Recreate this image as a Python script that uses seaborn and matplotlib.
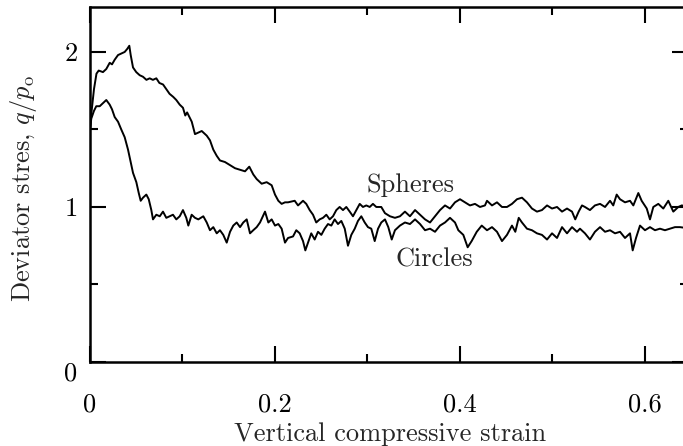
import numpy as np
import pandas as pd
import seaborn as sns
from matplotlib import pyplot as plt
from matplotlib.ticker import MultipleLocator

# values
spheres_strain = [0.0000, 0.0014, 0.0043, 0.0070, 0.0094, 0.0140, 0.0176, 0.0213, 0.0238, 0.0267,
                  0.0303, 0.0340, 0.0375, 0.0403, 0.0425, 0.0440, 0.0465, 0.0500, 0.0537, 0.0573,
                  0.0610, 0.0645, 0.0680, 0.0717, 0.0750, 0.0790, 0.0825, 0.0860, 0.0900, 0.0933,
                  0.0970, 0.1005, 0.1030, 0.1050, 0.1100, 0.1135, 0.1208, 0.1262, 0.1297, 0.1333,
                  0.1370, 0.1405, 0.1459, 0.1514, 0.1568, 0.1622, 0.1676, 0.1722, 0.1765, 0.1802,
                  0.1856, 0.1910, 0.1964, 0.2000, 0.2036, 0.2072, 0.2108, 0.2141, 0.2213, 0.2249,
                  0.2303, 0.2338, 0.2375, 0.2411, 0.2446, 0.2483, 0.2519, 0.2555, 0.2591, 0.2627,
                  0.2663, 0.2699, 0.2735, 0.2771, 0.2808, 0.2843, 0.2879, 0.2916, 0.2951, 0.2987,
                  0.3024, 0.3059, 0.3095, 0.3149, 0.3189, 0.3243, 0.3297, 0.3351, 0.3405, 0.3459,
                  0.3514, 0.3568, 0.3622, 0.3676, 0.3730, 0.3784, 0.3838, 0.3892, 0.3946, 0.4000,
                  0.4054, 0.4108, 0.4162, 0.4216, 0.4270, 0.4292, 0.4346, 0.4400, 0.4454, 0.4508,
                  0.4562, 0.4616, 0.4670, 0.4724, 0.4778, 0.4832, 0.4886, 0.4941, 0.4995, 0.5049,
                  0.5103, 0.5157, 0.5211, 0.5246, 0.5283, 0.5319, 0.5351, 0.5405, 0.5459, 0.5514,
                  0.5568, 0.5622, 0.5657, 0.5694, 0.5730, 0.5784, 0.5838, 0.5874, 0.5928, 0.5964,
                  0.6019, 0.6054, 0.6090, 0.6144, 0.6198, 0.6252, 0.6306, 0.6360, 0.6397, 0.6500]
spheres_stress = [1.50, 1.60, 1.76, 1.86, 1.88, 1.87, 1.89, 1.93, 1.92, 1.95,
                  1.98, 1.99, 2.00, 2.02, 2.04, 1.98, 1.90, 1.87, 1.85, 1.84,
                  1.82, 1.83, 1.82, 1.83, 1.80, 1.79, 1.76, 1.73, 1.71, 1.69,
                  1.66, 1.64, 1.59, 1.61, 1.55, 1.47, 1.49, 1.46, 1.43, 1.37,
                  1.33, 1.30, 1.29, 1.27, 1.25, 1.24, 1.23, 1.26, 1.21, 1.18,
                  1.15, 1.16, 1.14, 1.08, 1.04, 1.02, 1.03, 1.03, 1.04, 1.01,
                  1.04, 1.02, 0.98, 0.95, 0.90, 0.92, 0.93, 0.95, 0.92, 0.94,
                  0.98, 1.00, 0.98, 1.00, 0.97, 0.94, 0.98, 1.02, 1.00, 1.01,
                  1.00, 1.02, 1.00, 1.00, 0.96, 0.94, 0.93, 0.94, 0.97, 0.94,
                  0.98, 0.95, 0.92, 0.90, 0.94, 0.98, 1.01, 0.99, 1.03, 1.05,
                  1.03, 1.01, 1.02, 1.00, 1.01, 1.04, 1.01, 1.03, 1.00, 1.00,
                  1.02, 1.05, 1.06, 1.03, 0.99, 0.97, 0.98, 1.01, 0.99, 1.00,
                  0.97, 0.99, 0.97, 0.92, 0.97, 1.01, 1.00, 0.98, 1.01, 1.02,
                  1.00, 1.04, 1.01, 1.08, 1.05, 1.03, 1.04, 1.01, 1.09, 1.04,
                  0.99, 0.92, 1.00, 1.02, 0.99, 1.04, 0.97, 1.00, 1.01, 1.00]

circles_strain = [0.0000, 0.0014, 0.0043, 0.0068, 0.0105, 0.0140, 0.0176, 0.0213, 0.0238, 0.0267,
                  0.0303, 0.0338, 0.0375, 0.0411, 0.0440, 0.0465, 0.0501, 0.0527, 0.0548, 0.0573,
                  0.0609, 0.0635, 0.0663, 0.0681, 0.0717, 0.0754, 0.0789, 0.0825, 0.0862, 0.0897,
                  0.0933, 0.0970, 0.1005, 0.1041, 0.1063, 0.1099, 0.1135, 0.1171, 0.1225, 0.1262,
                  0.1297, 0.1333, 0.1370, 0.1405, 0.1441, 0.1478, 0.1514, 0.1549, 0.1586, 0.1622,
                  0.1657, 0.1694, 0.1730, 0.1765, 0.1802, 0.1838, 0.1892, 0.1928, 0.1964, 0.2000,
                  0.2036, 0.2072, 0.2108, 0.2141, 0.2195, 0.2230, 0.2267, 0.2303, 0.2328, 0.2357,
                  0.2392, 0.2429, 0.2465, 0.2501, 0.2537, 0.2573, 0.2609, 0.2645, 0.2681, 0.2717,
                  0.2754, 0.2789, 0.2825, 0.2862, 0.2897, 0.2933, 0.2970, 0.3005, 0.3041, 0.3078,
                  0.3114, 0.3149, 0.3189, 0.3225, 0.3262, 0.3297, 0.3351, 0.3405, 0.3459, 0.3514,
                  0.3568, 0.3622, 0.3676, 0.3730, 0.3784, 0.3838, 0.3892, 0.3946, 0.3982, 0.4036,
                  0.4083, 0.4126, 0.4181, 0.4235, 0.4292, 0.4346, 0.4400, 0.4454, 0.4508, 0.4562,
                  0.4598, 0.4635, 0.4670, 0.4724, 0.4778, 0.4832, 0.4886, 0.4941, 0.4995, 0.5049,
                  0.5103, 0.5157, 0.5211, 0.5265, 0.5297, 0.5351, 0.5405, 0.5459, 0.5514, 0.5568,
                  0.5622, 0.5676, 0.5730, 0.5784, 0.5838, 0.5867, 0.5903, 0.5946, 0.6000, 0.6054,
                  0.6108, 0.6162, 0.6216, 0.6270, 0.6324, 0.6378, 0.6500]
circles_stress = [1.50, 1.57, 1.62, 1.65, 1.65, 1.67, 1.69, 1.66, 1.63, 1.58,
                  1.55, 1.50, 1.45, 1.37, 1.29, 1.22, 1.16, 1.09, 1.04, 1.06,
                  1.08, 1.05, 0.98, 0.92, 0.95, 0.94, 0.97, 0.93, 0.94, 0.95,
                  0.92, 0.94, 0.98, 0.93, 0.88, 0.95, 0.93, 0.92, 0.94, 0.90,
                  0.85, 0.87, 0.83, 0.85, 0.82, 0.77, 0.84, 0.88, 0.90, 0.87,
                  0.90, 0.92, 0.83, 0.85, 0.87, 0.90, 0.97, 0.90, 0.92, 0.88,
                  0.89, 0.86, 0.77, 0.80, 0.81, 0.85, 0.83, 0.78, 0.72, 0.77,
                  0.83, 0.79, 0.84, 0.82, 0.86, 0.89, 0.88, 0.92, 0.89, 0.91,
                  0.86, 0.75, 0.82, 0.86, 0.91, 0.94, 0.90, 0.87, 0.86, 0.78,
                  0.86, 0.90, 0.92, 0.87, 0.79, 0.85, 0.88, 0.90, 0.89, 0.92,
                  0.89, 0.85, 0.86, 0.84, 0.88, 0.90, 0.93, 0.90, 0.85, 0.82,
                  0.74, 0.78, 0.84, 0.88, 0.85, 0.87, 0.84, 0.78, 0.82, 0.88,
                  0.84, 0.93, 0.90, 0.86, 0.85, 0.83, 0.82, 0.79, 0.83, 0.80,
                  0.87, 0.83, 0.87, 0.84, 0.86, 0.83, 0.79, 0.84, 0.87, 0.84,
                  0.85, 0.83, 0.84, 0.80, 0.83, 0.72, 0.80, 0.88, 0.85, 0.87,
                  0.85, 0.86, 0.85, 0.86, 0.87, 0.87, 0.86]

x_ticks = [0, 0.2, 0.4, 0.6]
x_ticklabels = ['0', '0.2', '0.4', '0.6']
y_ticks = [0, 1, 2]
y_ticklabels = ['0', '1', '2']

df = pd.concat([
    pd.DataFrame({'strain': spheres_strain, 'stress': spheres_stress, 'kind': 'Spheres'}),
    pd.DataFrame({'strain': circles_strain, 'stress': circles_stress, 'kind': 'Circles'}),
])

sns.set_style('ticks')
plt.rcParams['font.family'] = ['cmr10', 'DejaVu Serif']
plt.rcParams['mathtext.fontset'] = 'cm'
plt.rcParams['axes.formatter.use_mathtext'] = True
plt.rcParams['axes.unicode_minus'] = False

fig = plt.figure(figsize=(6.83, 4.46), dpi=100)
ax = fig.add_axes([90/683, 84/446, 598/683, 355/446])

sns.lineplot(data=df, x='strain', y='stress', units='kind', estimator=None,
             color='black', linewidth=1.4, sort=False, ax=ax, legend=False)

ax.set_xlim(0, 0.6465)
ax.set_ylim(0, 2.29)
ax.set_xticks(x_ticks)
ax.set_xticklabels(x_ticklabels)
ax.set_yticks(y_ticks)
ax.set_yticklabels(y_ticklabels)
ax.xaxis.set_minor_locator(MultipleLocator(0.1))
ax.yaxis.set_minor_locator(MultipleLocator(0.5))

ax.tick_params(which='both', direction='in', top=True, right=True, width=1.5, color='black',
               labelsize=19, labelcolor='black')
ax.tick_params(which='major', length=11.5)
ax.tick_params(which='minor', length=5.5)
ax.tick_params(axis='x', pad=22)
ax.tick_params(axis='y', pad=9)
ax.get_yticklabels()[0].set_verticalalignment('top')

for s in ax.spines.values():
    s.set_linewidth(1.8)
    s.set_color('black')

ax.set_xlabel('Vertical compressive strain', fontsize=19)
ax.set_ylabel(r'Deviator stres, $q/p_{\rm o}$', fontsize=19)
ax.xaxis.set_label_coords(0.5017, -0.17)
ax.yaxis.set_label_coords(-0.085, 0.49)

ax.text(0.346, 1.097, 'Spheres', fontsize=19, ha='center', va='baseline')
ax.text(0.3724, 0.613, 'Circles', fontsize=19, ha='center', va='baseline')

fig.savefig('out.png', dpi=100)
